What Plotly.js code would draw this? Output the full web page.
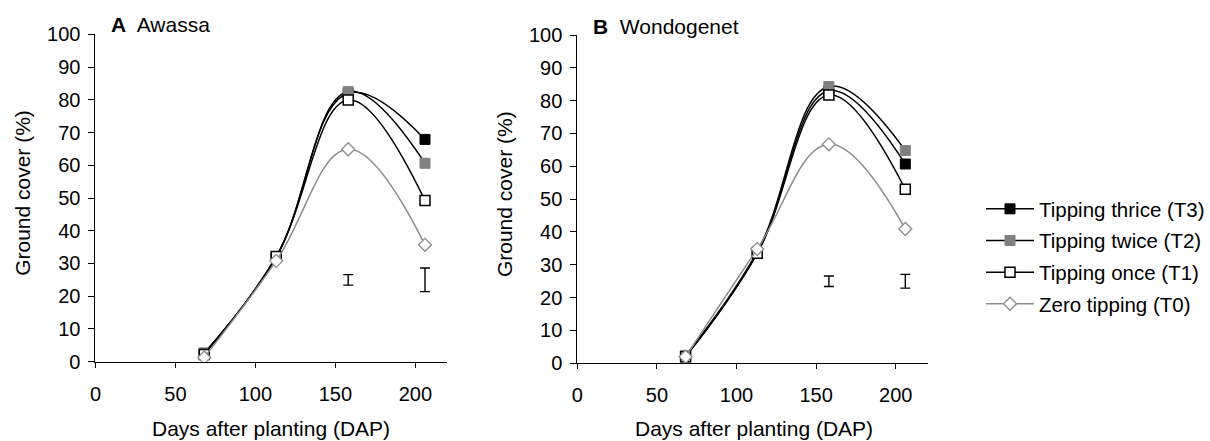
<!DOCTYPE html>
<html>
<head>
<meta charset="utf-8">
<script src="https://cdn.plot.ly/plotly-3.0.1.min.js"></script>
<style>html,body{margin:0;padding:0;background:#fff}#chart{width:1210px;height:441px}</style>
</head>
<body>
<div id="chart"></div>
<script>
// Days after planting
const dap = [68, 113, 158, 206];
// Panel A: Awassa
const awassaT3 = [2.6, 32.0, 82.0, 67.9];
const awassaT2 = [2.6, 32.0, 82.5, 60.6];
const awassaT1 = [2.2, 32.1, 79.9, 49.2];
const awassaT0 = [1.3, 30.8, 64.9, 35.7];
// Panel B: Wondogenet
const wondoT3 = [2.0, 33.5, 83.0, 60.7];
const wondoT2 = [2.4, 34.0, 84.3, 64.8];
const wondoT1 = [2.0, 33.5, 81.7, 53.0];
const wondoT0 = [2.0, 34.8, 66.7, 40.9];
// LSD error bars
const errX = [158, 206];
const errY = [25, 25];
const awassaErr = [1.6, 3.6];
const wondoErr = [1.6, 2.1];

const names = ['Tipping thrice (T3)', 'Tipping twice (T2)', 'Tipping once (T1)', 'Zero tipping (T0)'];
const styles = [
  {line: '#000000', width: 1.5, marker: {symbol: 'square', size: 10, color: '#000000', line: {color: '#000000', width: 1}}},
  {line: '#000000', width: 1.5, marker: {symbol: 'square', size: 10, color: '#808080', line: {color: '#808080', width: 1}}},
  {line: '#000000', width: 1.5, marker: {symbol: 'square', size: 10, color: '#ffffff', line: {color: '#000000', width: 1.5}}},
  {line: '#8c8c8c', width: 1.5, marker: {symbol: 'diamond', size: 10, color: '#ffffff', line: {color: '#8c8c8c', width: 1.3}}}
];
const seriesA = [awassaT3, awassaT2, awassaT1, awassaT0];
const seriesB = [wondoT3, wondoT2, wondoT1, wondoT0];

const traces = [];
function addPanel(series, xa, ya, showLegend) {
  for (let i = 0; i < series.length; i++) {
    const s = styles[i];
    traces.push({
      x: dap, y: series[i], xaxis: xa, yaxis: ya,
      type: 'scatter', mode: 'lines+markers', name: names[i],
      legendgroup: 'g' + i, showlegend: showLegend, legendrank: i + 1,
      line: {color: s.line, width: s.width, shape: 'spline', smoothing: 1.15},
      marker: s.marker
    });
  }
}
addPanel(seriesA, 'x', 'y', true);
addPanel(seriesB, 'x2', 'y2', false);

traces.push({x: errX, y: errY, xaxis: 'x', yaxis: 'y', type: 'scatter', mode: 'markers', showlegend: false,
  marker: {size: 1, color: 'rgba(0,0,0,0)'},
  error_y: {type: 'data', array: awassaErr, visible: true, color: '#000', thickness: 1.4, width: 5}});
traces.push({x: errX, y: errY, xaxis: 'x2', yaxis: 'y2', type: 'scatter', mode: 'markers', showlegend: false,
  marker: {size: 1, color: 'rgba(0,0,0,0)'},
  error_y: {type: 'data', array: wondoErr, visible: true, color: '#000', thickness: 1.4, width: 5}});

const fam = 'Liberation Sans, Arial, sans-serif';
const tickFont = {family: fam, size: 20, color: '#000'};
const titleFont = {family: fam, size: 21, color: '#000'};
const xTicks = [0, 50, 100, 150, 200];
const yTicks = [0, 10, 20, 30, 40, 50, 60, 70, 80, 90, 100];

function xaxis(domain, anchor) {
  return {domain: domain, anchor: anchor, range: [0, 220], tickvals: xTicks, ticktext: xTicks.map(String),
    showline: true, linecolor: '#000', linewidth: 1, ticks: 'outside', ticklen: 5, tickcolor: '#000',
    showgrid: false, zeroline: false, ticklabelstandoff: 9, tickfont: tickFont, fixedrange: true};
}
function yaxis(domain, anchor) {
  return {domain: domain, anchor: anchor, range: [0, 100], tickvals: yTicks, ticktext: yTicks.map(String),
    showline: true, linecolor: '#000', linewidth: 1, ticks: 'outside', ticklen: 6, tickcolor: '#000',
    showgrid: false, zeroline: false, ticklabelstandoff: 4, tickfont: tickFont, fixedrange: true};
}

const W = 1210, H = 441;
const layout = {
  width: W, height: H,
  margin: {l: 0, r: 0, t: 0, b: 0},
  paper_bgcolor: '#fff', plot_bgcolor: '#fff',
  font: tickFont,
  showlegend: true,
  xaxis: xaxis([96 / W, 450 / W], 'y'),
  yaxis: yaxis([1 - 361.7 / H, 1 - 34.3 / H], 'x'),
  xaxis2: xaxis([580.7 / W, 933 / W], 'y2'),
  yaxis2: yaxis([1 - 363.3 / H, 1 - 35 / H], 'x2'),
  legend: {x: 987 / W, xanchor: 'left', y: 1 - 189 / H, yanchor: 'top', font: {family: fam, size: 20.5, color: '#000'},
    bgcolor: 'rgba(0,0,0,0)', itemwidth: 48, tracegroupgap: 2, traceorder: 'grouped'},
  annotations: [
    {text: '<b>A</b>  Awassa', xref: 'paper', yref: 'paper', x: 110 / W, y: 1 - 25 / H, xanchor: 'left', yanchor: 'middle', showarrow: false, font: titleFont},
    {text: '<b>B</b>  Wondogenet', xref: 'paper', yref: 'paper', x: 594 / W, y: 1 - 27 / H, xanchor: 'left', yanchor: 'middle', showarrow: false, font: titleFont},
    {text: 'Ground cover (%)', xref: 'paper', yref: 'paper', x: 22 / W, y: 1 - 193 / H, textangle: -90, xanchor: 'center', yanchor: 'middle', showarrow: false, font: titleFont},
    {text: 'Ground cover (%)', xref: 'paper', yref: 'paper', x: 507 / W, y: 1 - 194 / H, textangle: -90, xanchor: 'center', yanchor: 'middle', showarrow: false, font: titleFont},
    {text: 'Days after planting (DAP)', xref: 'paper', yref: 'paper', x: 273 / W, y: 1 - 428 / H, xanchor: 'center', yanchor: 'middle', showarrow: false, font: titleFont},
    {text: 'Days after planting (DAP)', xref: 'paper', yref: 'paper', x: 758 / W, y: 1 - 428 / H, xanchor: 'center', yanchor: 'middle', showarrow: false, font: titleFont}
  ]
};

Plotly.newPlot('chart', traces, layout, {displayModeBar: false, staticPlot: true});
</script>
</body>
</html>
